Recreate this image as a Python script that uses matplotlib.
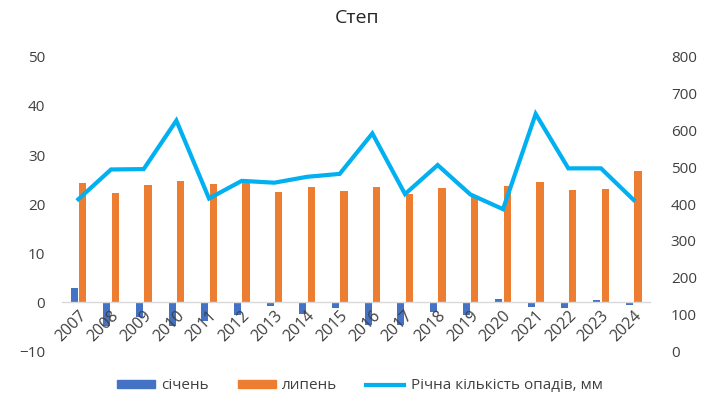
import matplotlib
matplotlib.use("Agg")
import matplotlib.pyplot as plt
from matplotlib.patches import Rectangle
from matplotlib.lines import Line2D
import numpy as np

years = ["2007", "2008", "2009", "2010", "2011", "2012", "2013", "2014", "2015",
         "2016", "2017", "2018", "2019", "2020", "2021", "2022", "2023", "2024"]
jan = [2.8, -4.9, -3.1, -4.9, -3.9, -2.6, -0.9, -2.5, -1.3,
       -4.6, -4.6, -2.0, -2.6, 0.7, -1.1, -1.3, 0.4, -0.6]
jul = [24.2, 22.2, 23.8, 24.6, 24.0, 24.4, 22.4, 23.4, 22.6,
       23.5, 22.0, 23.2, 21.4, 23.7, 24.4, 22.8, 23.0, 26.7]
precip = [413, 494, 495, 627, 415, 463, 458, 474, 482,
          592, 427, 506, 426, 386, 645, 497, 497, 411]

title = "Степ"
labels = ["січень", "липень", "Річна кількість опадів, мм"]

C_BLUE = "#4472C4"
C_ORANGE = "#ED7D31"
C_LINE = "#00B0F0"
C_TEXT = "#404040"

plt.rcParams['font.family'] = ['Open Sans', 'DejaVu Sans']

fig = plt.figure(figsize=(7.05, 4.04), dpi=100)
ax = fig.add_axes([0.088, 0.131, 0.834, 0.728])
x = np.arange(len(years))
w = 0.22
ax.bar(x - 0.13, jan, width=w, color=C_BLUE, zorder=1)
ax.bar(x + 0.13, jul, width=w, color=C_ORANGE, zorder=1)
ax.set_xlim(-0.5, len(years) - 0.5)
ax.set_ylim(-10, 50)
ax.set_yticks(range(-10, 51, 10))
for s in ["top", "right", "left"]:
    ax.spines[s].set_visible(False)
ax.spines["bottom"].set_position(("data", 0))
ax.spines["bottom"].set_color("#D9D9D9")
ax.spines["bottom"].set_linewidth(1.0)
ax.spines["bottom"].set_zorder(1.2)
ax.set_xticks(x)
ax.set_xticklabels(years, rotation=45, ha="right", rotation_mode="anchor")
ax.tick_params(axis="x", length=0, pad=4, labelsize=11.5, labelcolor=C_TEXT)
ax.tick_params(axis="y", length=0, pad=12, labelsize=11, labelcolor=C_TEXT)

ax2 = ax.twinx()
ax2.plot(x, precip, color=C_LINE, lw=3, solid_joinstyle="miter", zorder=3)
ax2.set_ylim(0, 800)
ax2.set_yticks(range(0, 801, 100))
for s in ["top", "right", "left", "bottom"]:
    ax2.spines[s].set_visible(False)
ax2.tick_params(axis="y", length=0, pad=15, labelsize=11, labelcolor=C_TEXT)

fig.text(0.507, 0.955, title, ha="center", va="center", fontsize=14, color="#262626")

handles = [Rectangle((0, 0), 1, 1, color=C_BLUE),
           Rectangle((0, 0), 1, 1, color=C_ORANGE),
           Line2D([0], [0], color=C_LINE, lw=3)]
fig.legend(handles, labels, loc="center", bbox_to_anchor=(0.51, 0.045), ncol=3,
           frameon=False, fontsize=11, handlelength=2.5, handleheight=0.45,
           columnspacing=1.9, handletextpad=0.4, labelcolor=C_TEXT)

fig.savefig("out.png", dpi=100)
